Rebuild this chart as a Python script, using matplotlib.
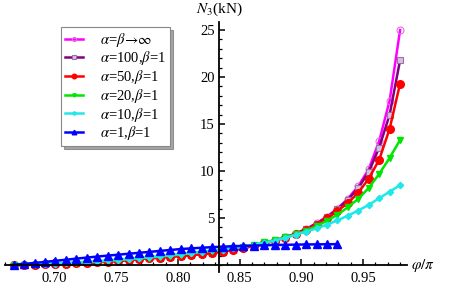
import matplotlib
matplotlib.use("Agg")
import matplotlib.pyplot as plt
from matplotlib.ticker import MultipleLocator
import numpy as np

plt.rcParams['font.family'] = ['Liberation Serif', 'DejaVu Serif']
plt.rcParams['mathtext.fontset'] = 'stix'

# phi/pi sample points (38 of them, 2/3 .. 0.98)
phi = np.linspace(0.667, 0.98, 38)

n_inf = [0.0, 0.01, 0.03, 0.06, 0.10, 0.14, 0.19, 0.24, 0.30, 0.37,
         0.45, 0.53, 0.62, 0.71, 0.80, 0.89, 0.98, 1.08, 1.18, 1.30,
         1.43, 1.60, 1.80, 2.05, 2.30, 2.60, 2.95, 3.35, 3.85, 4.45,
         5.15, 6.00, 7.05, 8.40, 10.2, 13.2, 17.5, 25.0]
n_100 = [0.0, 0.01, 0.03, 0.06, 0.10, 0.14, 0.19, 0.24, 0.30, 0.37,
         0.45, 0.53, 0.62, 0.71, 0.80, 0.89, 0.98, 1.08, 1.18, 1.30,
         1.43, 1.60, 1.80, 2.05, 2.30, 2.60, 2.93, 3.32, 3.80, 4.40,
         5.08, 5.95, 6.95, 8.20, 9.90, 12.5, 16.0, 21.8]
n_50 = [0.0, 0.01, 0.03, 0.06, 0.10, 0.14, 0.19, 0.24, 0.30, 0.37,
        0.45, 0.53, 0.62, 0.71, 0.80, 0.89, 0.98, 1.08, 1.18, 1.30,
        1.43, 1.60, 1.80, 2.05, 2.30, 2.60, 2.90, 3.30, 3.75, 4.30,
        4.95, 5.75, 6.60, 7.70, 9.20, 11.2, 14.5, 19.3]
n_20 = [0.0, 0.02, 0.05, 0.09, 0.13, 0.18, 0.24, 0.30, 0.37, 0.44,
        0.52, 0.60, 0.70, 0.80, 0.90, 1.00, 1.12, 1.25, 1.38, 1.50,
        1.65, 1.80, 1.95, 2.15, 2.40, 2.65, 2.95, 3.25, 3.65, 4.15,
        4.70, 5.35, 6.15, 7.05, 8.20, 9.70, 11.4, 13.3]
n_10 = [0.0, 0.03, 0.07, 0.11, 0.16, 0.22, 0.28, 0.35, 0.42, 0.50,
        0.58, 0.67, 0.76, 0.86, 0.96, 1.07, 1.18, 1.30, 1.42, 1.55,
        1.65, 1.80, 1.95, 2.15, 2.35, 2.60, 2.90, 3.20, 3.55, 3.90,
        4.30, 4.75, 5.25, 5.80, 6.40, 7.10, 7.80, 8.50]
# alpha=1 stops at phi/pi = 0.93
n_1 = [0.05, 0.12, 0.22, 0.33, 0.45, 0.56, 0.68, 0.79, 0.90, 1.00,
       1.10, 1.20, 1.30, 1.40, 1.50, 1.60, 1.70, 1.77, 1.84, 1.90,
       1.95, 2.00, 2.04, 2.07, 2.10, 2.13, 2.15, 2.17, 2.19, 2.20,
       2.21, 2.22]

labels = [r'$\alpha$=$\beta\!\rightarrow\!\infty$', r'$\alpha$=100,$\beta$=1',
          r'$\alpha$=50,$\beta$=1', r'$\alpha$=20,$\beta$=1',
          r'$\alpha$=10,$\beta$=1', r'$\alpha$=1,$\beta$=1']

fig = plt.figure(figsize=(4.63, 2.88), dpi=100)
ax = fig.add_axes([0.0108, 0.0556, 0.868, 0.868])

ax.plot(phi, n_inf, color='#ff00ff', lw=1.8, marker='o', ms=5, mfc='none',
        mec='#e070e0', mew=0.8, label=labels[0])
ax.plot(phi, n_100, color='#800080', lw=1.8, marker='s', ms=4.5, mfc='#d8c0e0',
        mec='#9a70a8', mew=0.8, label=labels[1])
ax.plot(phi, n_50, color='#ff0000', lw=1.8, marker='o', ms=5.5, mfc='#ff0000',
        mec='#ff0000', label=labels[2])
ax.plot(phi, n_20, color='#00e600', lw=1.8, marker='v', ms=4, mfc='#00e600',
        mec='#00e600', label=labels[3])
ax.plot(phi, n_10, color='#20e8e8', lw=1.8, marker='D', ms=3.2, mfc='#20e8e8',
        mec='#20e8e8', label=labels[4])
ax.plot(phi[:len(n_1)], n_1, color='#0000ff', lw=1.8, marker='^', ms=5.5,
        mfc='#0000ff', mec='#0000ff', label=labels[5])

ax.set_xlim(0.660, 0.9855)
ax.set_ylim(-0.74, 25.85)

# Mathematica style axes crossing at (5/6, 0)
ax.spines['top'].set_visible(False)
ax.spines['right'].set_visible(False)
ax.spines['left'].set_position(('data', 5 / 6))
ax.spines['bottom'].set_position(('data', 0))
for s in ['left', 'bottom']:
    ax.spines[s].set_linewidth(1.3)

ax.set_xticks([0.70, 0.75, 0.80, 0.85, 0.90, 0.95])
ax.set_xticklabels(['0.70', '0.75', '0.80', '0.85', '0.90', '0.95'])
ax.xaxis.set_minor_locator(MultipleLocator(0.01))
ax.set_yticks([5, 10, 15, 20, 25])
ax.yaxis.set_minor_locator(MultipleLocator(1))
ax.tick_params(which='major', direction='in', length=4, width=1.1,
               labelsize=10.5, pad=5)
ax.tick_params(which='minor', direction='in', length=2.5, width=0.9)
ax.tick_params(axis='y', pad=3)

ax.text(0.9885, 0, r'$\varphi/\pi$', fontsize=11, ha='left', va='center')
ax.text(5 / 6, 26.3, r'$N_3$(kN)', fontsize=11, ha='center', va='bottom')

leg = ax.legend(loc='upper left', bbox_to_anchor=(0.139, 0.98), borderaxespad=0,
                fontsize=10.5, handlelength=1.25, handletextpad=1.2,
                labelspacing=0.05, borderpad=0.25,
                fancybox=False, shadow=True, edgecolor='#888888',
                framealpha=1, markerscale=0.6)
leg.get_frame().set_linewidth(0.8)

fig.savefig('out.png', dpi=100)
